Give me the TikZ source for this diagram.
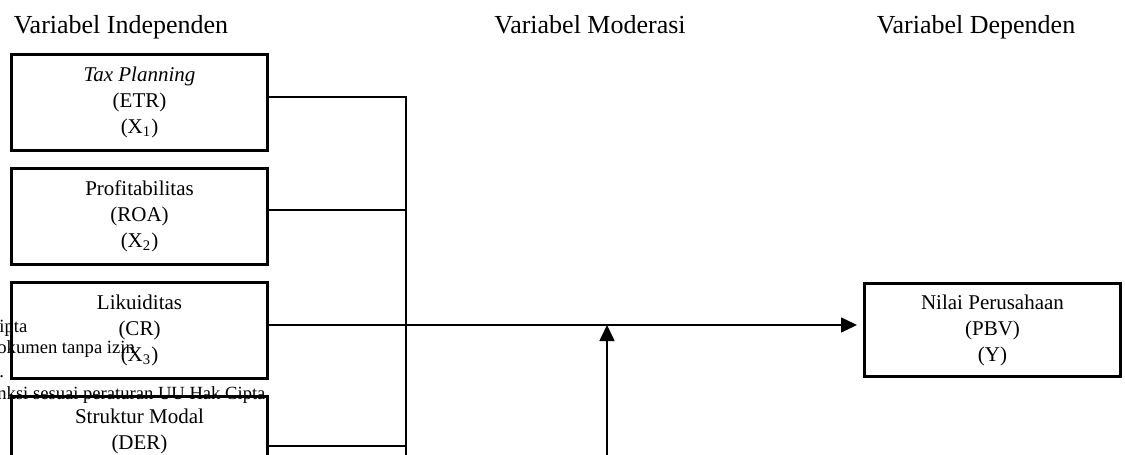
\documentclass[tikz,border=0pt]{standalone}
\usepackage{fontspec}
\setmainfont{Liberation Serif}
\usetikzlibrary{positioning,arrows.meta}

\begin{document}
\begin{tikzpicture}[x=0.5pt, y=-0.5pt, node distance=7.5pt,
    every node/.style={font=\fontsize{10.5}{13}\selectfont, align=center, inner sep=0pt},
    varbox/.style={draw, line width=1.5pt, minimum width=128pt, minimum height=48pt},
    head/.style={font=\fontsize{13}{15}\selectfont, anchor=base},
    mark note/.style={font=\fontsize{9.3}{11}\selectfont, anchor=base west},
    link/.style={line width=0.8pt},
    tip/.style={-{Triangle[length=8pt, width=7.5pt]}}]
  \useasboundingbox (0,0) rectangle (1125,455);
  \clip (0,0) rectangle (1125,455);

  % headings
  \node[head] (hindep) at (121,33) {Variabel Independen};
  \node[head] (hmod) at (590,33) {Variabel Moderasi};
  \node[head] (hdep) at (976,33) {Variabel Dependen};

  % text showing through from the page
  \node[mark note] (note1) at (-1,332) {ipta};
  \node[mark note] (note2) at (-3,353) {okumen tanpa izin};
  \node[mark note] (note3) at (-1,377) {.};
  \node[mark note] (note4) at (-3,399) {nksi sesuai peraturan UU Hak Cipta};

  % independent variables
  \node[varbox] (etr) at (139.5,102) {\textit{Tax Planning}\\(ETR)\\(X\textsubscript{1})};
  \node[varbox, below=of etr] (roa) {Profitabilitas\\(ROA)\\(X\textsubscript{2})};
  \node[varbox, below=of roa] (cr) {Likuiditas\\(CR)\\(X\textsubscript{3})};
  \node[varbox, below=of cr] (der) {Struktur Modal\\(DER)\\(X\textsubscript{4})};

  % dependent variable
  \node[varbox, minimum height=46.5pt] (pbv) at (992.5,330) {Nilai Perusahaan\\(PBV)\\(Y)};

  \coordinate (bus) at (406,480);
  \coordinate (moderasi) at (607,480);
  \coordinate (crout) at ([yshift=2.5pt]cr.east);

  \draw[link] ([yshift=2.5pt]etr.east) -| (bus);
  \foreach \v/\dy in {roa/3pt,cr/2.5pt,der/-1pt}
    \draw[link] ([yshift=\dy]\v.east) -- ([yshift=\dy]\v.east -| bus);
  \draw[link, tip, shorten >=3pt] (crout) -- (crout -| pbv.west);
  \draw[link, tip] (moderasi) -- (moderasi |- crout);
\end{tikzpicture}
\end{document}
